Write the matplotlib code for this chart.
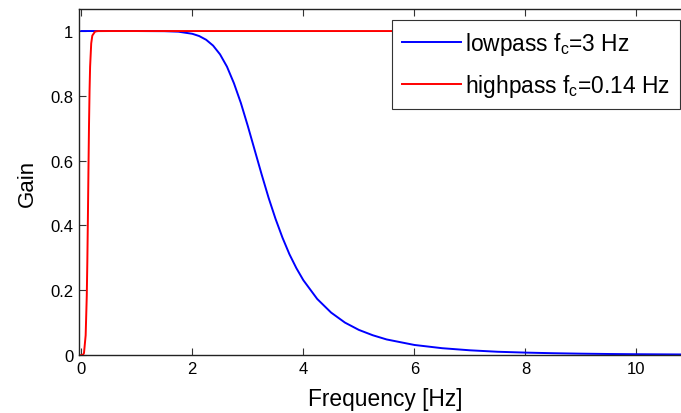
import matplotlib
matplotlib.use("Agg")
import matplotlib.pyplot as plt

# Lowpass (fc = 3 Hz) gain
lp_freq = [0, 0.5, 1.0, 1.5, 1.75, 2.0, 2.125, 2.25, 2.375, 2.5, 2.625, 2.75, 2.875,
           3.0, 3.125, 3.25, 3.375, 3.5, 3.625, 3.75, 3.875, 4.0, 4.25, 4.5, 4.75,
           5.0, 5.25, 5.5, 6.0, 6.5, 7.0, 7.5, 8.0, 8.5, 9.0, 9.5, 10.0, 11.0]
lp_gain = [1.0, 1.0, 1.0, 0.9995, 0.998, 0.9915, 0.9845, 0.973, 0.955, 0.928, 0.890, 0.839, 0.778,
           0.707, 0.632, 0.557, 0.485, 0.420, 0.362, 0.311, 0.268, 0.231, 0.173, 0.131, 0.100,
           0.0775, 0.061, 0.048, 0.031, 0.021, 0.0145, 0.010, 0.0074, 0.0055, 0.0041, 0.0031, 0.0024, 0.0015]

# Highpass (fc = 0.14 Hz) gain
hp_freq = [0.0, 0.03, 0.05, 0.08, 0.10, 0.11, 0.12, 0.13, 0.14, 0.15, 0.16, 0.18, 0.20,
           0.25, 0.30, 0.50, 11.0]
hp_gain = [0.0, 0.0, 0.006, 0.061, 0.183, 0.287, 0.420, 0.568, 0.707, 0.816, 0.890, 0.962, 0.986,
           0.9985, 0.9998, 1.0, 1.0]

labels = [r'lowpass f$_\mathregular{c}$=3 Hz', r'highpass f$_\mathregular{c}$=0.14 Hz']
xticks = [0, 2, 4, 6, 8, 10]
yticks = [0, 0.2, 0.4, 0.6, 0.8, 1]

plt.rcParams['font.family'] = ['Liberation Sans', 'DejaVu Sans']
plt.rcParams['mathtext.fontset'] = 'custom'
plt.rcParams['mathtext.rm'] = 'Liberation Sans'

W, H = 681, 414
fig = plt.figure(figsize=(W / 100, H / 100), dpi=100)
x0px, x1px = 79, 692
ytop, ybot = 10, 356
ax = fig.add_axes([x0px / W, 1 - ybot / H, (x1px - x0px) / W, (ybot - ytop) / H])

ax.plot(lp_freq, lp_gain, color='#0000ff', lw=1.4, label=labels[0])
ax.plot(hp_freq, hp_gain, color='#ff0000', lw=1.4, label=labels[1])

ax.set_xlim(-0.04, 11.0)
ax.set_ylim(0, 1.068)
ax.set_xticks(xticks)
ax.set_xticklabels([str(t) for t in xticks])
ax.set_yticks(yticks)
ax.set_yticklabels(['0', '0.2', '0.4', '0.6', '0.8', '1'])
ax.tick_params(direction='in', top=True, right=True, length=5, width=0.8,
               labelsize=12, pad=4, color='#333333')
for s in ax.spines.values():
    s.set_linewidth(1.0)
    s.set_color('#222222')

ax.set_xlabel('Frequency [Hz]', fontsize=16.4, labelpad=8)
ax.set_ylabel('Gain', fontsize=16, labelpad=9)

leg = ax.legend(loc='upper left', bbox_to_anchor=(392 / W, 1 - 21 / H),
                bbox_transform=fig.transFigure, fontsize=16.4, frameon=True,
                fancybox=False, edgecolor='#333333', framealpha=1,
                handlelength=2.6, handletextpad=0.15, borderpad=0.45,
                labelspacing=0.65, borderaxespad=0)
leg.get_frame().set_linewidth(0.8)

fig.savefig('out.png', dpi=100)
